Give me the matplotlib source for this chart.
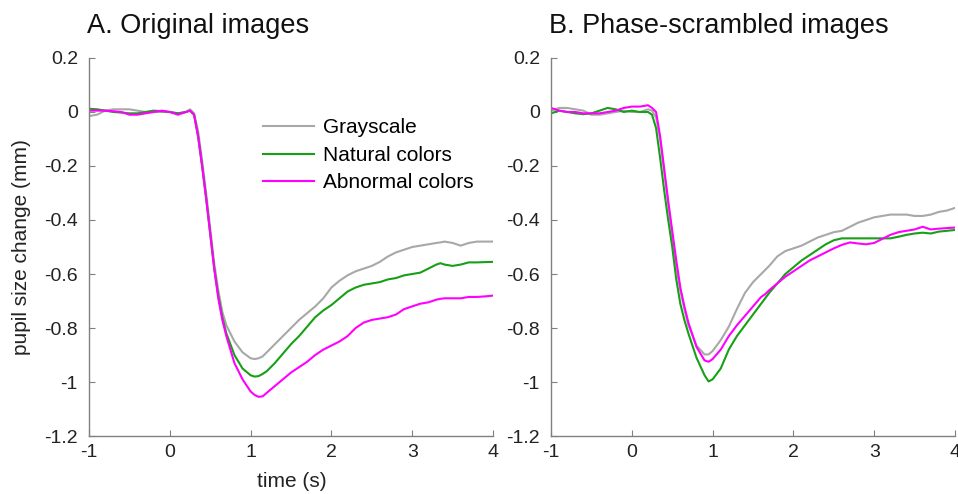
import numpy as np
from matplotlib import pyplot as plt

plt.rcParams['font.family'] = ['Liberation Sans', 'DejaVu Sans']

# time axis (s), shared by the curves of each panel
time_a = [-1.0, -0.9, -0.8, -0.7, -0.6, -0.5, -0.4, -0.3, -0.2, -0.1, 0.0, 0.1, 0.2, 0.25,
          0.3, 0.35, 0.4, 0.45, 0.5, 0.55, 0.6, 0.65, 0.7, 0.8, 0.9, 1.0, 1.05, 1.1, 1.15,
          1.2, 1.3, 1.4, 1.5, 1.6, 1.7, 1.8, 1.9, 2.0, 2.1, 2.2, 2.3, 2.4, 2.5, 2.6, 2.7,
          2.8, 2.9, 3.0, 3.1, 3.2, 3.3, 3.35, 3.4, 3.5, 3.6, 3.7, 3.8, 3.9, 4.0]

gray_a = [-0.015, -0.01, 0.005, 0.01, 0.01, 0.01, 0.005, 0.0, 0.0, 0.0, 0.0, -0.005, 0.0, 0.01,
          -0.005, -0.07, -0.18, -0.3, -0.43, -0.56, -0.66, -0.74, -0.79, -0.85, -0.89, -0.912,
          -0.915, -0.912, -0.905, -0.89, -0.86, -0.83, -0.80, -0.77, -0.745, -0.72, -0.69,
          -0.65, -0.625, -0.605, -0.59, -0.58, -0.57, -0.555, -0.535, -0.52, -0.51, -0.50,
          -0.495, -0.49, -0.485, -0.483, -0.48, -0.485, -0.495, -0.485, -0.48, -0.48, -0.48]

green_a = [0.012, 0.01, 0.005, 0.0, -0.002, -0.005, -0.005, 0.0, 0.005, 0.003, 0.0, -0.005, 0.0,
           0.005, -0.01, -0.09, -0.2, -0.32, -0.45, -0.58, -0.68, -0.76, -0.82, -0.9, -0.95,
           -0.975, -0.98, -0.978, -0.97, -0.96, -0.93, -0.895, -0.86, -0.83, -0.795, -0.76,
           -0.735, -0.715, -0.69, -0.665, -0.65, -0.64, -0.635, -0.63, -0.62, -0.615, -0.605,
           -0.6, -0.595, -0.58, -0.565, -0.56, -0.565, -0.57, -0.565, -0.557, -0.557, -0.556,
           -0.555]

magenta_a = [0.005, 0.005, 0.005, 0.003, 0.0, -0.01, -0.01, -0.005, 0.0, 0.005, 0.0, -0.01, 0.0,
             0.005, -0.01, -0.09, -0.2, -0.32, -0.45, -0.58, -0.69, -0.77, -0.83, -0.93, -0.99,
             -1.035, -1.048, -1.055, -1.053, -1.04, -1.015, -0.99, -0.965, -0.945, -0.925, -0.9,
             -0.88, -0.865, -0.85, -0.83, -0.8, -0.78, -0.77, -0.765, -0.76, -0.75, -0.73, -0.72,
             -0.71, -0.705, -0.695, -0.692, -0.69, -0.69, -0.69, -0.685, -0.685, -0.683, -0.68]

time_b = [-1.0, -0.9, -0.8, -0.7, -0.6, -0.5, -0.4, -0.3, -0.2, -0.1, 0.0, 0.1, 0.2, 0.25,
          0.3, 0.35, 0.4, 0.45, 0.5, 0.55, 0.6, 0.65, 0.7, 0.8, 0.9, 0.95, 1.0, 1.1, 1.2,
          1.3, 1.4, 1.5, 1.6, 1.65, 1.7, 1.8, 1.9, 2.0, 2.1, 2.2, 2.3, 2.4, 2.5, 2.6, 2.7,
          2.8, 2.9, 3.0, 3.1, 3.2, 3.3, 3.4, 3.5, 3.6, 3.7, 3.8, 3.9, 4.0]

gray_b = [0.005, 0.015, 0.015, 0.01, 0.005, -0.01, -0.01, -0.005, 0.0, 0.005, 0.0, 0.0, 0.01,
          0.005, -0.02, -0.1, -0.22, -0.34, -0.46, -0.57, -0.66, -0.73, -0.79, -0.865, -0.898,
          -0.898, -0.885, -0.845, -0.795, -0.73, -0.67, -0.63, -0.6, -0.585, -0.57, -0.535,
          -0.515, -0.505, -0.495, -0.48, -0.465, -0.455, -0.445, -0.44, -0.425, -0.41, -0.4,
          -0.39, -0.385, -0.38, -0.38, -0.38, -0.385, -0.385, -0.38, -0.37, -0.365, -0.355]

green_b = [-0.005, 0.005, 0.0, -0.005, -0.008, -0.005, 0.005, 0.015, 0.01, 0.0, 0.005, 0.0, 0.0,
           -0.01, -0.06, -0.17, -0.29, -0.4, -0.5, -0.62, -0.71, -0.77, -0.82, -0.91, -0.975,
           -0.998, -0.99, -0.95, -0.88, -0.83, -0.79, -0.75, -0.71, -0.69, -0.67, -0.635, -0.6,
           -0.575, -0.55, -0.53, -0.51, -0.49, -0.475, -0.468, -0.468, -0.468, -0.468, -0.468,
           -0.468, -0.468, -0.462, -0.455, -0.45, -0.447, -0.45, -0.443, -0.44, -0.437]

magenta_b = [0.015, 0.005, 0.0, 0.0, -0.005, -0.005, -0.005, 0.0, 0.005, 0.015, 0.02, 0.02,
             0.025, 0.015, 0.0, -0.09, -0.21, -0.33, -0.44, -0.55, -0.65, -0.72, -0.78, -0.87,
             -0.92, -0.925, -0.915, -0.88, -0.83, -0.79, -0.755, -0.72, -0.685, -0.675, -0.66,
             -0.635, -0.61, -0.59, -0.57, -0.55, -0.535, -0.52, -0.505, -0.492, -0.483, -0.487,
             -0.49, -0.485, -0.47, -0.455, -0.445, -0.44, -0.435, -0.425, -0.435, -0.432, -0.43,
             -0.428]

labels = ['Grayscale', 'Natural colors', 'Abnormal colors']
colors = ['#a8a8a8', '#16a016', '#ff00ff']
titles = ['A. Original images', 'B. Phase-scrambled images']
x_ticks = [-1, 0, 1, 2, 3, 4]
y_ticks = [0.2, 0, -0.2, -0.4, -0.6, -0.8, -1, -1.2]


def tick_text(v):
    return '0' if v == 0 else f'{v:g}'


fig = plt.figure(figsize=(9.58, 4.94), dpi=100)
ax_a = fig.add_axes([0.0929, 0.1174, 0.4217, 0.7652])
ax_b = fig.add_axes([0.5752, 0.1174, 0.4217, 0.7652])

panels = [(ax_a, time_a, [gray_a, green_a, magenta_a]),
          (ax_b, time_b, [gray_b, green_b, magenta_b])]

for (ax, t, series), title in zip(panels, titles):
    for values, color, label in zip(series, colors, labels):
        ax.plot(t, values, color=color, lw=1.5, label=label)
    ax.set_xlim(-1, 4)
    ax.set_ylim(-1.2, 0.2)
    ax.set_xticks(x_ticks)
    ax.set_xticklabels([tick_text(v) for v in x_ticks])
    ax.set_yticks(y_ticks)
    ax.set_yticklabels([tick_text(v) for v in y_ticks])
    for side in ['top', 'right']:
        ax.spines[side].set_visible(False)
    for side in ['left', 'bottom']:
        ax.spines[side].set_color('#808080')
        ax.spines[side].set_linewidth(1.0)
    ax.tick_params(direction='in', length=4, width=0.8, color='#808080',
                   labelsize=14, labelcolor='#222222')
    ax.tick_params(axis='x', pad=6)
    ax.tick_params(axis='y', pad=8)
    ax.set_title(title, loc='left', fontsize=19.5, pad=18, x=-0.005, color='#111111')

ax_a.legend(loc='upper left', bbox_to_anchor=(0.43, 0.84), frameon=False, fontsize=15,
            handlelength=2.45, handletextpad=0.45, labelspacing=0.4,
            borderpad=0, borderaxespad=0)

fig.text(22 / 958, 0.5 * (0.1174 + 0.8826), 'pupil size change (mm)', rotation=90,
         ha='center', va='center', fontsize=15, color='#222222')
fig.text(292 / 958, 1 - 481 / 494, 'time (s)', ha='center', va='center', fontsize=15,
         color='#222222')

fig.savefig('out.png', dpi=100)
